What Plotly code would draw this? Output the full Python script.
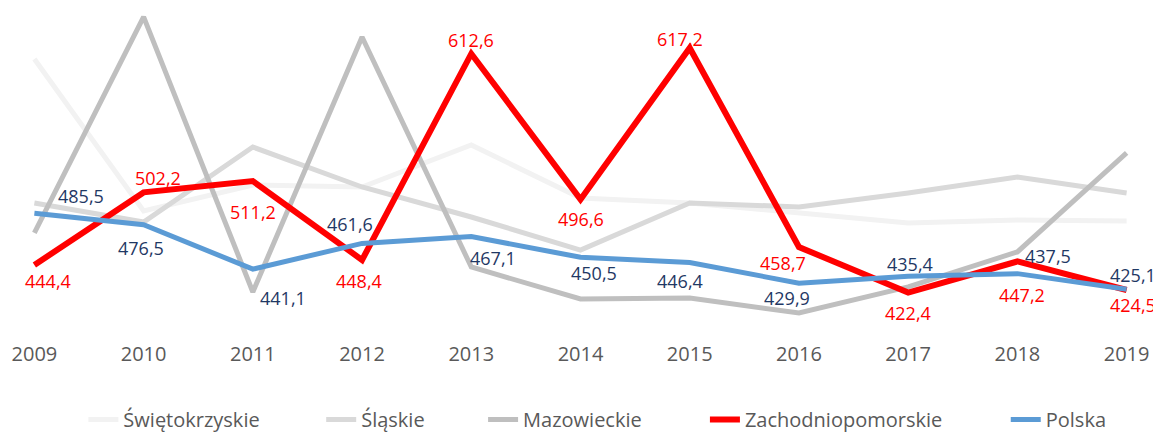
import plotly.graph_objects as go

years = [2009, 2010, 2011, 2012, 2013, 2014, 2015, 2016, 2017, 2018, 2019]

swietokrzyskie = [608.4, 487.4, 508.1, 506.5, 539.9, 497.7, 493.8, 485.8, 477.8, 480.2, 479.4]
slaskie = [493.8, 478.6, 538.3, 506.5, 482.6, 456.3, 493.8, 490.6, 501.7, 514.5, 501.7]
mazowieckie = [469.9, 641.9, 422.9, 625.9, 442.8, 417.3, 418.1, 406.2, 426.9, 454.8, 533.6]
zachodniopomorskie = [444.4, 502.2, 511.2, 448.4, 612.6, 496.6, 617.2, 458.7, 422.4, 447.2, 424.5]
polska = [485.5, 476.5, 441.1, 461.6, 467.1, 450.5, 446.4, 429.9, 435.4, 437.5, 425.1]

# label offsets in pixels (dx, dy downward positive)
zach_offsets = [(14, 16), (14, -14), (0, 31), (-3, 21), (0, -14), (0, 20), (-10, -9), (-16, 16), (0, 20), (5, 34), (6, 15)]
pol_offsets = [(47, -17), (-3, 23), (30, 29), (-12, -19), (22, 22), (13, 16), (-10, 19), (-12, 15), (2, -12), (31, -18), (6, -14)]

# legend entry left positions (fraction of plot width)
legend_x = [0.0581, 0.2695, 0.4134, 0.6106, 0.8780]

FONT = "'Open Sans', Lato, sans-serif"

series = [
    ("Świętokrzyskie", swietokrzyskie, "#F2F2F2", 5),
    ("Śląskie", slaskie, "#D9D9D9", 5),
    ("Mazowieckie", mazowieckie, "#BFBFBF", 5),
    ("Zachodniopomorskie", zachodniopomorskie, "#FF0000", 6),
    ("Polska", polska, "#5B9BD5", 5),
]

fig = go.Figure()
legend_ids = ["legend", "legend2", "legend3", "legend4", "legend5"]
for i, (name, vals, col, w) in enumerate(series):
    fig.add_trace(go.Scatter(
        x=years, y=vals, name=name, mode="lines", legend=legend_ids[i],
        line=dict(color=col, width=w, shape="linear"),
        hoverinfo="skip", cliponaxis=False,
    ))

def fmt(v):
    return f"{v:.1f}".replace(".", ",")

annotations = []
for vals, offs, col in [(zachodniopomorskie, zach_offsets, "#FF0000"), (polska, pol_offsets, "#1F3864")]:
    for yr, v, (dx, dy) in zip(years, vals, offs):
        annotations.append(dict(
            x=yr, y=v, xref="x", yref="y", text=fmt(v), showarrow=False,
            xshift=dx, yshift=-dy, font=dict(family=FONT, size=18, color=col),
            xanchor="center", yanchor="middle",
        ))

legend_common = dict(
    orientation="h", xanchor="left", y=-0.377, yanchor="bottom",
    font=dict(family=FONT, size=20, color="#595959"),
    bgcolor="rgba(0,0,0,0)",
)
legends = {lid: dict(legend_common, x=lx) for lid, lx in zip(legend_ids, legend_x)}

fig.update_layout(
    width=1153, height=427,
    margin=dict(l=9.6, r=17.6, t=0, b=114, pad=0, autoexpand=False),
    paper_bgcolor="white", plot_bgcolor="white",
    font=dict(family=FONT, color="#595959"),
    showlegend=True,
    annotations=annotations,
    xaxis=dict(
        range=[2008.85, 2019.15], showgrid=False, zeroline=False,
        tickmode="array", tickvals=years, ticktext=[str(y) for y in years],
        showline=False, ticks="", tickfont=dict(family=FONT, size=20, color="#595959"),
        ticklabelstandoff=19,
    ),
    yaxis=dict(
        range=[399.8, 649.0], showgrid=False, zeroline=False, showline=False,
        showticklabels=False, ticks="",
    ),
    **legends,
)

fig.write_html("out.html")
